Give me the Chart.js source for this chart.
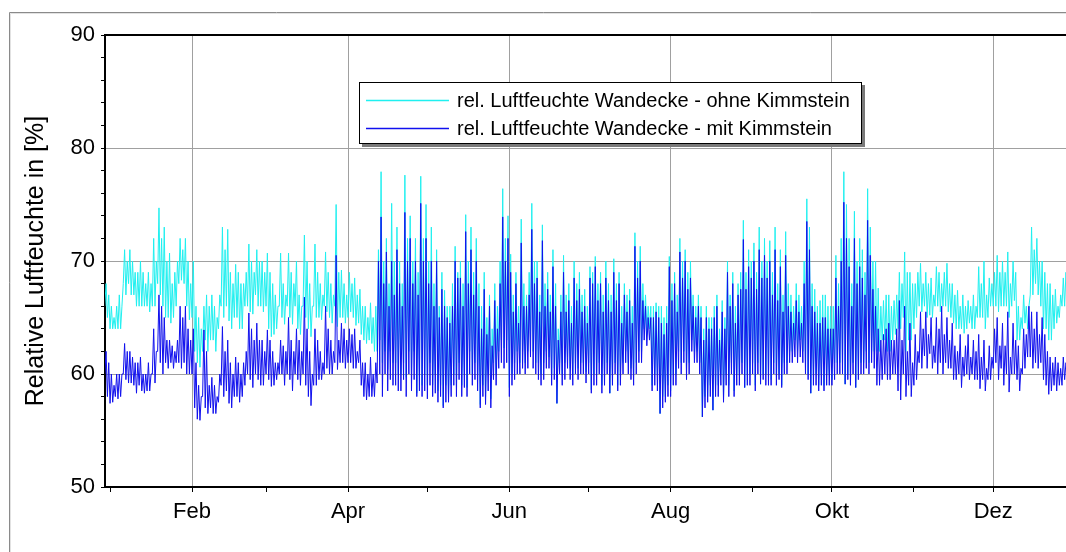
<!DOCTYPE html>
<html>
<head>
<meta charset="utf-8">
<script src="https://cdn.jsdelivr.net/npm/chart.js@4.4.0/dist/chart.umd.min.js"></script>
<style>
html,body{margin:0;padding:0;background:#fff;overflow:hidden;width:1066px;height:552px;}
#wrap{position:absolute;left:0;top:0;width:1076px;height:552px;}
canvas{display:block;}
</style>
</head>
<body>
<div id="wrap"><canvas id="c" width="1076" height="552"></canvas></div>
<script>
// ---- data: one daily low and one daily high per day, day of year (Jan 1 = 0) from firstDay ----
const firstDay = -2;
const seriesLabels = ['rel. Luftfeuchte Wandecke - ohne Kimmstein', 'rel. Luftfeuchte Wandecke - mit Kimmstein'];

const ohneHi = [
 68,67,66,65,66,67,66,71,70,71,
 70,69,69,70,69,68,69,68,72,70,
 74.7,72,73,70,70.7,68,69,70,72,71,
 72,70,68,70,66,65,64,66,67,66,
 67,66,65,67,73,71,72.8,69,68,69.7,
 69,68,68,69,71.5,70,69,71,70,70,
 69,70.7,69,68,67,66,70.7,68,67,70.7,
 69,68,70,67,66,72.3,70,68,66,71.5,
 69,68,67,70.8,69,68,67,75,69,69.2,
 68,67,69,68,68.5,67,67.5,66,66,65,
 66.3,65,66,71,77.9,70,72,68,75.1,70,
 73,70,68,77.6,72,74,70,72,69,77.5,
 72,75,70,73,68,71,66,69,67.4,66,
 66,68,71.3,69,70,68,74.1,70,73,69,
 72,68,66,69,65,67,64,68,66,70,
 76.4,72,74,70.6,67,69,66,73.7,68,67,
 69,75.1,70,70,67,73.2,68,69,67,71,
 68,64,67,70.5,67,68,66,70,68,69,
 67,67.5,66,69.5,69,70.4,68,69,67,70,
 68,67,70.2,68,69,66,68,67,67.5,66,
 72.5,70,71.3,68,67,66,66,66,66.3,66,
 66,65,66,70.4,68,69,67,72,70,71,
 69,70,67,66,67,66,64,66,65,65,
 66,67,64,66.5,65,70,67,69,66,68,
 69,73.6,69,71,70,71.6,69,73,70,72,
 70,71.8,69,73,68,71,67,72.6,68,67,
 66,68,67,66,70,75.5,73,68,67.5,66,
 66.5,67,67,66,66,66,70.5,68,72,77.9,
 75,72,68,74.4,70,72,71,69,76.4,73,
 70,70,67.6,66,66.5,67,67,66,66.5,67,
 69,68,70.8,69,69,68,68,69,69.8,68,
 69,68,68.5,67,69.5,69,68,69,69.8,68,
 68,67,67.4,66,67,66,66.5,66,67,66,
 69.5,68,70,67,68.5,68,69,70.5,69,70,
 69,70.8,68,70,69,66,65,67,66,66,
 73,71,72,70,70,69,68,68,67,67.5,
 66,67,68.5,69,69,68,68
];
const ohneLo = [
 66,65,64,64,64,64,64,68,67,68,
 67,67,66,66,66,66,66,65.5,66,66,
 68,67,66,65,65,64.5,65,66,68,68.3,
 68,66,64.8,65,62,61,60.6,62,63,62,
 63,63,62,64,66,65,66,64.7,64,65,
 65,64,64,66,66,65.5,65.3,67,66,66,
 65.5,66,64,63.3,63.5,64,66,65,64.4,66,
 65,64.4,66,64,63.5,66,65,64,63.3,66,
 65,65,64.8,66,65.5,65,64.5,66,64.2,65,
 65,64.5,65,65.5,65,64.3,64.5,63.5,63,62.7,
 63,62.7,62,62,63,61,62,60.4,62,61,
 61,60,60,61,59.7,62,60,62,58.3,60,
 59,60,59,61,59,60,58.5,59,57.2,59,
 58,59,60,59,61,59,60,58.8,62,60,
 61,60,57.3,59,58,60,57.8,61,60,62,
 63,62.3,63,58.8,60,61,62,61,62,61,
 62,63,62,61,61,60,61,62,61.5,60,
 60.5,57.4,61,60,61,61.5,60.5,60,61,60.5,
 61,61,60.2,61,58.6,60,60,61,59,60,
 61,58.3,60,61,59,60,61,62,61,60.5,
 60,61,62,62,64,63.5,64,59,60,60,
 56.5,58,58,59,58.5,60,60,62,61,62,
 60.5,61,63,62,62,61,56.2,58,58,59,
 56.8,59,59,60,58,60,59,61,58.5,60,
 60,61,58.8,60,60,61,59,61,59.1,60,
 60,60,59.5,61,60,60,59,61,61,62,
 62,63,62,63,62,61,60,58.3,60,60,
 59,60,59,60,60,59.5,61,61,61,61,
 59.1,60,60,61,58.8,60,61,61,62,61,
 62,62,62,62,63,63,62,62,63,63.5,
 64,64,65,62,63,63,64,65,66,65.5,
 66,65,65.2,65,66,66,65.5,66,66,65.5,
 65,64.5,64,64,64,63.6,64,64.5,64,64,
 65,65,65,64,65,66,66,66,65.5,66,
 66,66,65,66,66.5,63,63,64,64.5,64,
 67,67,68,67,66,64,64,63,63,64,
 64.5,65,66,66,67,66,66
];
const mitHi = [
 62,61,60,59,60,60,60,62.7,62,62,
 61.5,61,61,61.5,60,60,61,60,64,62,
 67,66,65,63,63,62.5,62,63,66,65,
 66,64,63,64,61,59,58,63.9,62,59,
 59.7,59,58,60,64.2,62,63,61,60,61.5,
 61,60,61,62,65.4,64,63,64.5,63,63,
 62,63.9,63,62,61,61,63,62.5,62,65,
 63,62,64,63,62,66.8,64,62,60,64,
 63,62,61,66,64,63,62,70.5,63,64.5,
 64,63,64,63.5,64,62,63,61,61,60,
 61.5,60,61,70,73.9,68,70.8,66,70,67,
 71,68,66,74.3,70,72,68,70,67,75.1,
 70,72,68,70,66,70,65,67.5,66,65,
 64.5,66,70,68.5,68.5,66,72.6,68,71,67,
 70,66,64,67.5,63.5,66,62.5,66.5,64,68,
 73.9,70,72,69,65.5,68,64.5,71.6,66,66,
 67,72.8,68,68.5,65.5,71.8,66,67.5,65.5,69.5,
 66,63,65.5,69,65.5,66.5,64.5,68.5,66.5,67.5,
 65.5,66,64.5,68.5,68,69.5,66.5,68,65.5,68.5,
 66.5,65.5,69,66.5,68,64.5,67,65.5,66.5,64.5,
 71.3,68.5,70,66.5,66,65,65,65,65.5,65,
 64.5,63.5,64.5,69.5,66.5,68,65.5,70.8,68.5,70,
 67.5,68.5,66,65,66,65,63,65,64,64,
 65,66,63,65.5,64,69,66,68,64.5,67,
 67.5,71.9,67.5,69.5,68.5,70,67.5,71,68.5,70.5,
 68.5,70,67,71,66.5,69.5,65.5,70.5,66,65.5,
 64.5,66.5,65.5,64.5,68,73.5,71,66,65.5,64.5,
 64.5,65,65,64,64,64,68.5,66,70,75.2,
 72,69.5,66,72,68,69.5,68.5,67,73.6,70.5,
 67.5,66,64,63,63.5,64,64.5,63,63,64,
 66.5,63,66,62,64.5,61,63.5,62,65.5,64,
 65.5,63.5,65,62.5,65,64,66,63.5,65,63,
 64.5,62.5,62,63.5,61.5,62.5,63.5,61.5,63,62,
 63.5,61.5,63,60.5,62.5,61.5,64,65,62.5,64.5,
 62.5,65.5,61.5,64.5,63,62.5,60.5,64,63.5,66,
 65.5,64,65.5,63.5,65,63.5,62,61.5,61,61.5,
 61,60.5,61.5,61,62.7,62,62.5
];
const mitLo = [
 60,58,57.4,57.5,58,57.8,58,60,59.5,59.2,
 59.2,59,58.3,59,58.5,58.3,58.5,58.5,60,59.2,
 62,61,60,61,60.5,61,60.5,61,61,60.5,
 61,60,60,60,57,56,55.9,58,57,56.5,
 57,56.5,56.5,57.5,59,58,58.5,57.4,57,58,
 58,57.5,58,59,60,59.5,58.8,60,59.5,59,
 59,60,59.5,58.9,59,59.5,60,60,59,60,
 59.5,58.5,60,59.5,59,60,59,58,57.2,59,
 59,59.5,59.5,60,60.5,60,60,61,60.4,61,
 61,60.5,61,61,60.5,60.5,61,59,58,57.7,
 58,58,58,59.2,60,58,60,58.5,59.5,59,
 59,58.5,58.5,59.5,58,60,58.5,59.5,58,58.5,
 58,58.5,57.8,59,58,58.3,57.5,58,57,57.5,
 57.5,58,59,58,59.5,58,58.8,58,60,59,
 59.5,58.5,57,58,57.3,58.5,57,59.5,59,60.5,
 61,60.5,61,58,59,59.5,60,60,60.5,60,
 60.5,61.5,60.5,60,59.5,59,59.5,60.5,60.5,59,
 59.5,57.4,60,59,59.5,60.5,59.5,59,60,59.5,
 60,60,59.2,60,58.3,59,59,60,58.3,59,
 60,58.3,59,60,58.5,59,60,61,60,59.5,
 59,60,61,61,63,62.5,63,58.5,59,58.5,
 56.5,57,57.5,58,58,59,59,60.5,60,61,
 59.5,60,62,61,61,60,56.2,57,57.5,58,
 56.8,58,58,59,57.5,59,58,60,58,59,
 59,60,58.8,59,59,60,58.5,60,59.1,59.5,
 59,59,59,60,59,59.5,58.8,60,60,61,
 61,61.5,61,61.5,61,60,59.5,58.3,59,59,
 58.5,59,58.5,59,59,59,59.5,60,60,60,
 59.1,59.5,59,60,58.8,59.5,60,60,60.5,60,
 61,60.5,59,59,59.5,60,59.5,59.5,60,60,
 58.5,57.7,60,58,59,58,59,59.5,61,60.5,
 61.6,60.5,61.8,60.5,61,60,61,60,61,60.5,
 60.5,59.5,59.5,60,58.8,59.8,60,59.5,60,59.5,
 59.5,58.7,59.5,58.5,59.5,59.5,60.5,61,59.5,60.5,
 59,60,58.4,60,60,59.5,58.5,60,60.5,61.5,
 61.5,60.5,61,60.5,61,59.5,59,58.2,58.5,59,
 58.5,59,59,59.5,60,60,60
];
// axis ticks
const minorMonthDays = [0, 59, 120, 181, 243, 304];
const monthDays = [31, 90, 151, 212, 273, 334];
const monthLabels = ['Feb', 'Apr', 'Jun', 'Aug', 'Okt', 'Dez'];
const yMin = 50, yMax = 90, yStep = 2, yLabelStep = 10;
const yGridValues = [60, 70, 80];
const yTitle = 'Relative Luftfeuchte in [%]';

const FONT = "'Liberation Sans', Arial, Helvetica, sans-serif";
const COL_OHNE = '#1ff0f0';
const COL_MIT = '#1010ee';

// each day: low at the start of the day, high at mid-day
const toPts = (lo, hi) => {
  const pts = [];
  for (let i = 0; i < lo.length; i++) {
    pts.push({x: firstDay + i, y: lo[i]});
    pts.push({x: firstDay + i + 0.5, y: hi[i]});
  }
  return pts;
};
const allMonthTicks = minorMonthDays.concat(monthDays).sort((a, b) => a - b);

const framePlugin = {
  id: 'frame',
  beforeDraw(chart) {
    const ctx = chart.ctx;
    ctx.save();
    ctx.fillStyle = '#fff';
    ctx.fillRect(0, 0, chart.width, chart.height);
    ctx.strokeStyle = '#8a8a8a';
    ctx.lineWidth = 1;
    ctx.beginPath();
    ctx.moveTo(9.5, chart.height + 2);
    ctx.lineTo(9.5, 12.5);
    ctx.lineTo(chart.width + 2, 12.5);
    ctx.stroke();
    ctx.strokeStyle = '#e2e2e2';
    ctx.beginPath();
    ctx.moveTo(10.5, chart.height + 2);
    ctx.lineTo(10.5, 13.5);
    ctx.lineTo(chart.width + 2, 13.5);
    ctx.stroke();
    ctx.restore();
  },
  afterDraw(chart) {
    const ctx = chart.ctx;
    const a = chart.chartArea;
    ctx.save();
    ctx.strokeStyle = '#000';
    ctx.lineWidth = 2;
    ctx.beginPath();
    ctx.moveTo(a.left - 1, a.top);
    ctx.lineTo(a.right + 2, a.top);
    ctx.stroke();
    // legend box with shadow
    const bx = 359, by = 82, bw = 503, bh = 62;
    ctx.fillStyle = '#7a7a7a';
    ctx.fillRect(bx + 3, by + 3, bw, bh);
    ctx.fillStyle = '#fff';
    ctx.fillRect(bx, by, bw, bh);
    ctx.strokeStyle = '#000';
    ctx.lineWidth = 1;
    ctx.strokeRect(bx + 0.5, by + 0.5, bw - 1, bh - 1);
    ctx.font = '20px ' + FONT;
    ctx.textBaseline = 'middle';
    ctx.textAlign = 'left';
    chart.data.datasets.forEach((ds, i) => {
      const yy = by + 18 + i * 28;
      ctx.strokeStyle = ds.borderColor;
      ctx.lineWidth = 1.5;
      ctx.beginPath();
      ctx.moveTo(366, yy + 0.5);
      ctx.lineTo(449, yy + 0.5);
      ctx.stroke();
      ctx.fillStyle = '#000';
      ctx.fillText(ds.label, 457, yy + 1);
    });
    ctx.restore();
  }
};

new Chart(document.getElementById('c'), {
  type: 'line',
  data: {
    datasets: [
      {label: seriesLabels[0], data: toPts(ohneLo, ohneHi), borderColor: COL_OHNE, borderWidth: 1, pointRadius: 0, order: 2, tension: 0},
      {label: seriesLabels[1], data: toPts(mitLo, mitHi), borderColor: COL_MIT, borderWidth: 1, pointRadius: 0, order: 1, tension: 0}
    ]
  },
  options: {
    responsive: false,
    animation: false,
    layout: {padding: {left: 14, top: 35, right: 0, bottom: 0}},
    plugins: {legend: {display: false}, tooltip: {enabled: false}},
    scales: {
      x: {
        type: 'linear',
        min: -1.91,
        max: 365.3,
        afterBuildTicks(axis) { axis.ticks = allMonthTicks.map(v => ({value: v})); },
        afterFit(scale) { scale.height = 552 - 487; },
        ticks: {
          autoSkip: false, maxRotation: 0, padding: 7, color: '#000',
          font: {family: FONT, size: 22},
          callback(v) { const k = monthDays.indexOf(v); return k >= 0 ? monthLabels[k] : ''; }
        },
        grid: {
          color: c => (c.tick && monthDays.indexOf(c.tick.value) >= 0) ? '#a0a0a0' : 'rgba(0,0,0,0)',
          lineWidth: 1,
          borderDash: [1, 2],
          tickColor: '#000', tickLength: 5, tickWidth: 1, tickBorderDash: []
        },
        border: {display: true, color: '#000', width: 2}
      },
      y: {
        min: yMin, max: yMax,
        afterFit(scale) { scale.width = 105 - 14; },
        ticks: {
          stepSize: yStep, autoSkip: false, padding: 6, color: '#000',
          font: {family: FONT, size: 22},
          callback(v) { return v % yLabelStep === 0 ? String(v) : ''; }
        },
        grid: {
          color: c => (c.tick && yGridValues.indexOf(c.tick.value) >= 0) ? '#a0a0a0' : 'rgba(0,0,0,0)',
          lineWidth: 1,
          borderDash: [1, 2],
          tickColor: '#000', tickLength: 4, tickWidth: 1, tickBorderDash: []
        },
        border: {display: true, color: '#000', width: 2},
        title: {display: true, text: yTitle, color: '#000', font: {family: FONT, size: 25}, padding: {top: 7, bottom: 0}}
      }
    }
  },
  plugins: [framePlugin]
});
</script>
</body>
</html>
